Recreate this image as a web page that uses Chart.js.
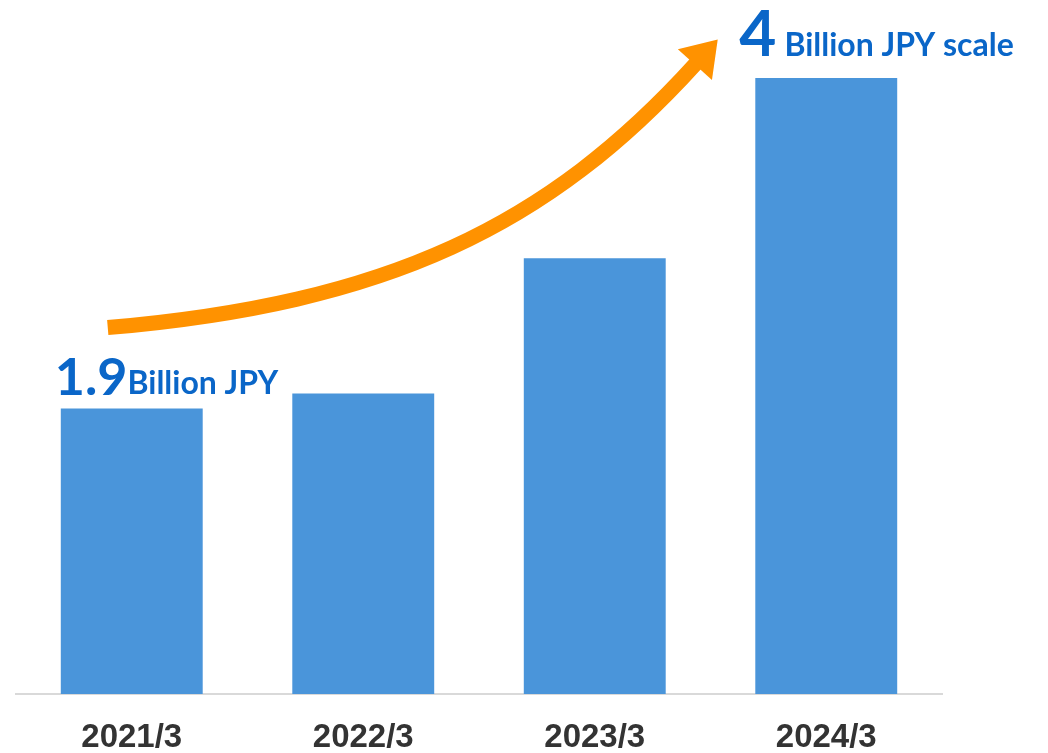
<!DOCTYPE html>
<html>
<head>
<meta charset="utf-8">
<script src="https://cdn.jsdelivr.net/npm/chart.js@4.4.0/dist/chart.umd.min.js"></script>
<style>
  body { margin: 0; background: #fff; }
  canvas { display: block; }
</style>
</head>
<body>
<canvas id="myChart" width="1048" height="753"></canvas>
<script>
// data
const labels = ['2021/3', '2022/3', '2023/3', '2024/3'];
const sales = [1.9, 2.0, 2.9, 4.1];   // billion JPY
const startNote = ['1.9', 'Billion JPY'];
const endNote = ['4', 'Billion JPY scale'];

const BLUE_TEXT = '#0a66c8';
const ORANGE = '#ff9200';

// draws the growth arrow and the two callouts
const growthArrow = {
    id: 'growthArrow',
    afterDatasetsDraw(chart) {
        const ctx = chart.ctx;
        const bars = chart.getDatasetMeta(0).data;
        const b0 = bars[0], b3 = bars[bars.length - 1];
        const w0 = b0.width, w3 = b3.width;

        // arrow shaft, anchored on the first and last bar
        const sx = b0.x - 24, sy = b0.y - 81;
        const ex = b3.x - 130, ey = b3.y - 15;
        let dx = 0.67, dy = -0.74;
        const len = Math.hypot(dx, dy);
        dx /= len; dy /= len;
        ctx.save();
        ctx.strokeStyle = ORANGE;
        ctx.fillStyle = ORANGE;
        ctx.lineWidth = 15;
        ctx.beginPath();
        ctx.moveTo(sx, sy);
        ctx.bezierCurveTo(sx + 280, sy - 24, ex - dx * 220, ey - dy * 220, ex, ey);
        ctx.stroke();
        // head
        const px = -dy, py = dx;
        ctx.beginPath();
        ctx.moveTo(ex + dx * 32, ey + dy * 32);
        ctx.lineTo(ex + px * 23 - dx * 2, ey + py * 23 - dy * 2);
        ctx.lineTo(ex - px * 23 - dx * 2, ey - py * 23 - dy * 2);
        ctx.closePath();
        ctx.fill();

        // callouts
        ctx.fillStyle = BLUE_TEXT;
        ctx.textBaseline = 'alphabetic';
        ctx.textAlign = 'left';
        let x = b0.x - w0 / 2 - 6;
        let y = b0.y - 14;
        ctx.font = 'bold 52px Lato';
        ctx.fillText(startNote[0], x, y);
        x += ctx.measureText(startNote[0]).width;
        ctx.font = 'bold 32px Lato';
        ctx.fillText(startNote[1], x, y - 1);

        x = b3.x - w3 / 2 - 16;
        y = b3.y - 22;
        ctx.font = 'bold 64px Lato';
        ctx.fillText(endNote[0], x, y);
        x += ctx.measureText(endNote[0]).width + 8;
        ctx.font = 'bold 32px Lato';
        ctx.fillText(endNote[1], x, y);
        ctx.restore();
    }
};

const canva = document.getElementById('myChart');
const chart = new Chart(canva.getContext('2d'), {
    type: 'bar',
    data: {
        labels: labels,
        datasets: [{
            data: sales,
            backgroundColor: '#4a95da',
            borderWidth: 0,
            categoryPercentage: 1,
            barPercentage: 0.613
        }]
    },
    options: {
        responsive: false,
        animation: false,
        layout: { padding: { left: 16, right: 106, top: 0, bottom: 0 } },
        plugins: {
            legend: { display: false },
            tooltip: { enabled: false }
        },
        scales: {
            x: {
                grid: { display: false },
                border: { display: true, color: '#d9d9d9', width: 2 },
                ticks: {
                    color: '#333333',
                    font: { family: 'Liberation Sans', size: 33, weight: 'bold' },
                    padding: 16,
                    maxRotation: 0
                },
                afterFit: (s) => { s.height = 59; }
            },
            y: {
                display: false,
                min: 0,
                max: 4.62
            }
        }
    },
    plugins: [growthArrow]
});
</script>
</body>
</html>
